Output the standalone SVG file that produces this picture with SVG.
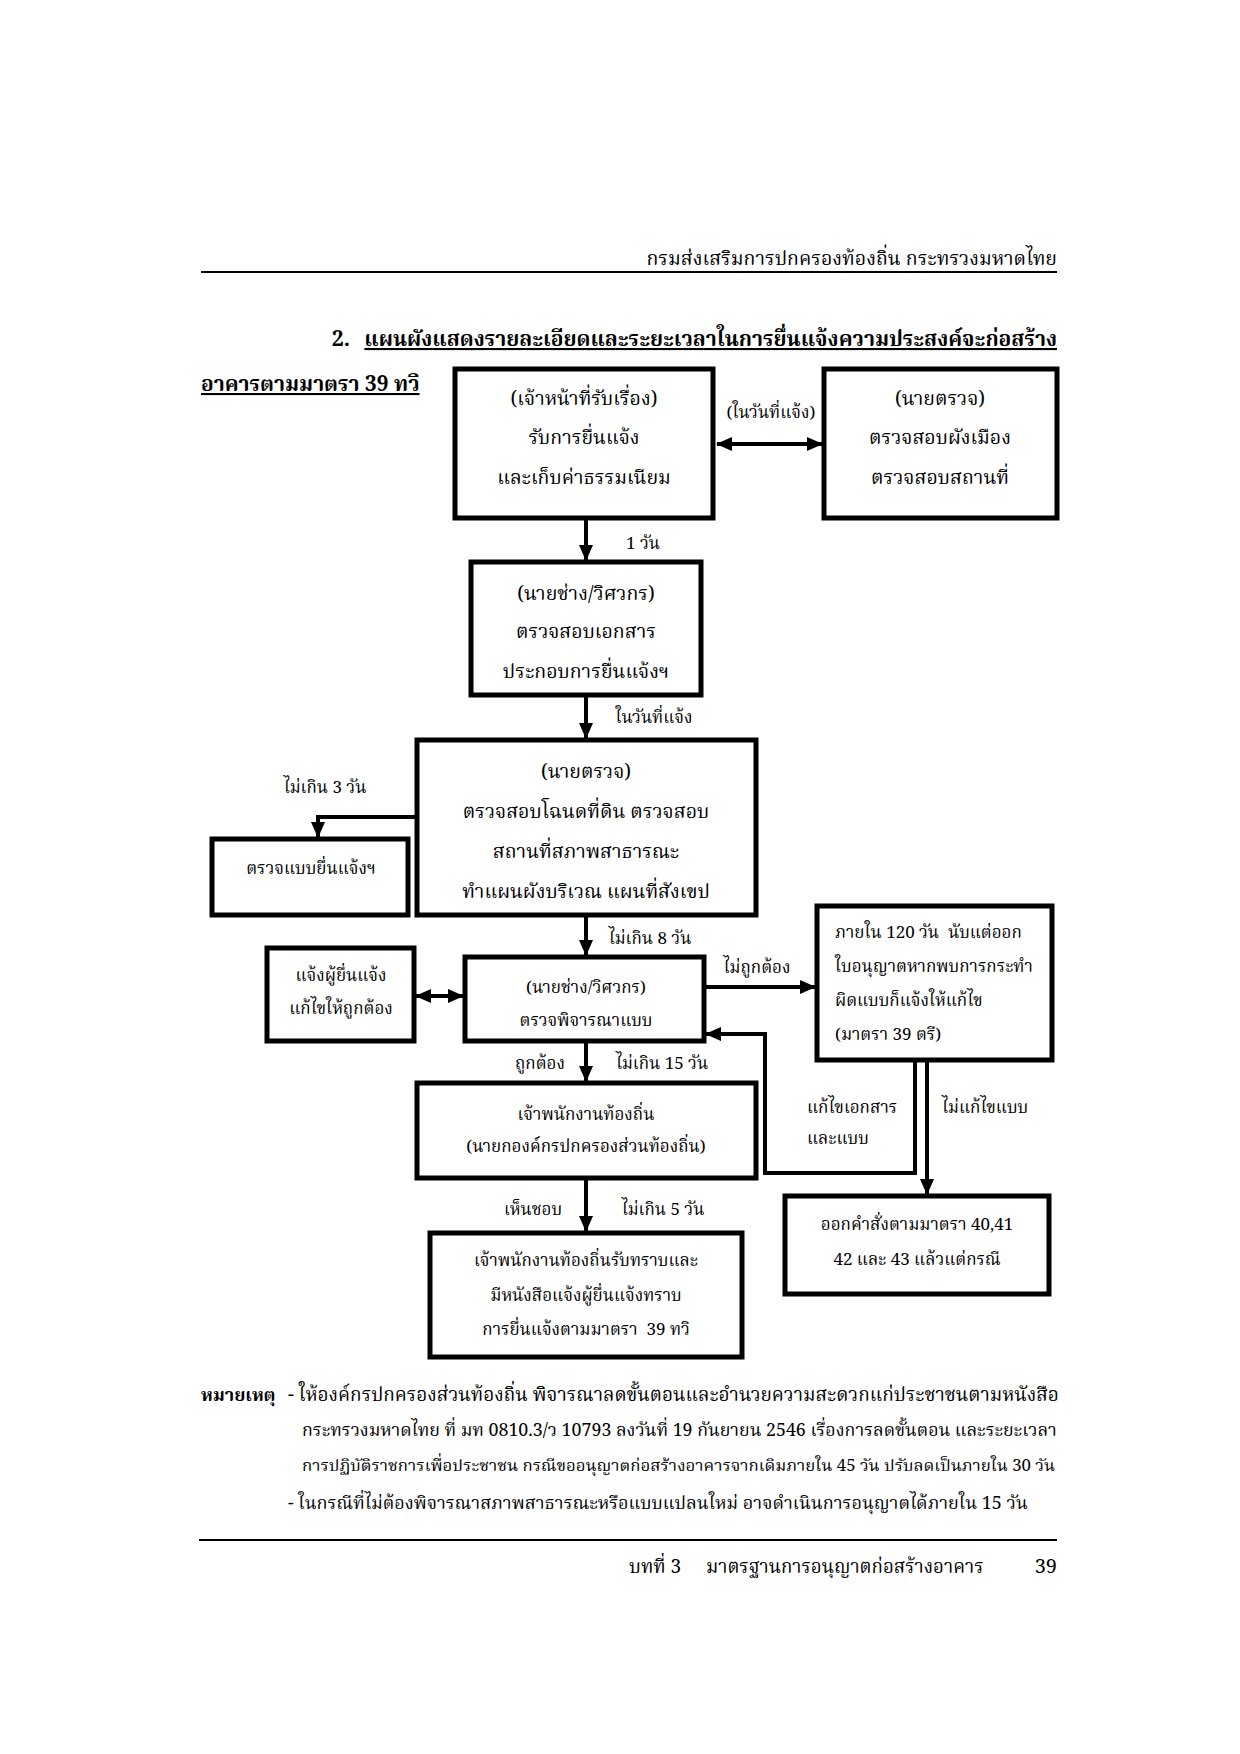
<svg xmlns="http://www.w3.org/2000/svg" width="1240" height="1754" viewBox="0 0 1240 1754">
<style>
text{font-family:"Noto Serif Thai","Norasi","Loma","Noto Sans Thai Looped","Noto Sans Thai","Liberation Serif",serif;fill:#000;}
.c{text-anchor:middle;}
.t{font-size:19.5px;}
.h{font-size:21px;}
.s{font-size:17px;}
.b{font-weight:bold;}
.box{fill:#fff;stroke:#000;stroke-width:5;}
.ln{fill:none;stroke:#000;stroke-width:4;}
</style>
<defs>
<marker id="ah" markerUnits="userSpaceOnUse" markerWidth="16" markerHeight="16" refX="15" refY="8" orient="auto-start-reverse" viewBox="0 0 16 16"><path d="M0,1 L16,8 L0,15 z" fill="#000"/></marker>
</defs>
<rect width="1240" height="1754" fill="#fff"/>
<text x="1057" y="265" class="t" text-anchor="end">กรมส่งเสริมการปกครองท้องถิ่น กระทรวงมหาดไทย</text>
<line x1="201" y1="272" x2="1057" y2="272" stroke="#000" stroke-width="2"/>
<text x="332" y="346" class="h b">2.</text>
<text x="1057" y="346" class="h b" text-anchor="end" text-decoration="underline">แผนผังแสดงรายละเอียดและระยะเวลาในการยื่นแจ้งความประสงค์จะก่อสร้าง</text>
<text x="201" y="391" class="h b" text-decoration="underline">อาคารตามมาตรา 39 ทวิ</text>
<g id="connectors">
<line class="ln" x1="717" y1="444" x2="822" y2="444" marker-start="url(#ah)" marker-end="url(#ah)"/>
<line class="ln" x1="586" y1="520" x2="586" y2="560" marker-end="url(#ah)"/>
<line class="ln" x1="586" y1="697" x2="586" y2="738" marker-end="url(#ah)"/>
<polyline class="ln" points="415,817 318,817 318,837" marker-end="url(#ah)"/>
<line class="ln" x1="586" y1="917" x2="586" y2="955" marker-end="url(#ah)"/>
<line class="ln" x1="416" y1="996" x2="463" y2="996" marker-start="url(#ah)" marker-end="url(#ah)"/>
<line class="ln" x1="706" y1="987" x2="815" y2="987" marker-end="url(#ah)"/>
<polyline class="ln" points="915,1062 915,1173 765,1173 765,1034 706,1034" marker-end="url(#ah)"/>
<line class="ln" x1="927" y1="1062" x2="927" y2="1194" marker-end="url(#ah)"/>
<line class="ln" x1="586" y1="1043" x2="586" y2="1081" marker-end="url(#ah)"/>
<line class="ln" x1="586" y1="1180" x2="586" y2="1231" marker-end="url(#ah)"/>
<text x="771" y="418" class="s c">(ในวันที่แจ้ง)</text>
<text x="643" y="549" class="s c">1 วัน</text>
<text x="654" y="723" class="s c">ในวันที่แจ้ง</text>
<text x="325" y="793" class="s c">ไม่เกิน 3 วัน</text>
<text x="650" y="944" class="s c">ไม่เกิน 8 วัน</text>
<text x="757" y="973" class="s c">ไม่ถูกต้อง</text>
<text x="540" y="1069" class="s c">ถูกต้อง</text>
<text x="662" y="1069" class="s c">ไม่เกิน 15 วัน</text>
<text x="807" y="1113" class="s">แก้ไขเอกสาร</text>
<text x="807" y="1144" class="s">และแบบ</text>
<text x="942" y="1113" class="s">ไม่แก้ไขแบบ</text>
<text x="533" y="1215" class="s c">เห็นชอบ</text>
<text x="663" y="1215" class="s c">ไม่เกิน 5 วัน</text>
</g>
<g id="n1"><rect class="box" x="455" y="369" width="258" height="149"/>
<text x="584" y="405" class="t c">(เจ้าหน้าที่รับเรื่อง)</text>
<text x="584" y="444" class="t c">รับการยื่นแจ้ง</text>
<text x="584" y="484" class="t c">และเก็บค่าธรรมเนียม</text></g>
<g id="n2"><rect class="box" x="824" y="369" width="233" height="149"/>
<text x="940" y="405" class="t c">(นายตรวจ)</text>
<text x="940" y="444" class="t c">ตรวจสอบผังเมือง</text>
<text x="940" y="484" class="t c">ตรวจสอบสถานที่</text></g>
<g id="n3"><rect class="box" x="471" y="562" width="230" height="133"/>
<text x="586" y="600" class="t c">(นายช่าง/วิศวกร)</text>
<text x="586" y="638" class="t c">ตรวจสอบเอกสาร</text>
<text x="586" y="678" class="t c">ประกอบการยื่นแจ้งฯ</text></g>
<g id="n4"><rect class="box" x="417" y="740" width="339" height="175"/>
<text x="586" y="778" class="t c">(นายตรวจ)</text>
<text x="586" y="818" class="t c">ตรวจสอบโฉนดที่ดิน ตรวจสอบ</text>
<text x="586" y="858" class="t c">สถานที่สภาพสาธารณะ</text>
<text x="586" y="898" class="t c" font-size="18.6">ทำแผนผังบริเวณ แผนที่สังเขป</text></g>
<g id="n5"><rect class="box" x="212" y="839" width="196" height="76"/>
<text x="311" y="874" class="s c">ตรวจแบบยื่นแจ้งฯ</text></g>
<g id="n6"><rect class="box" x="465" y="957" width="239" height="84"/>
<text x="586" y="993" class="s c" font-size="16.5">(นายช่าง/วิศวกร)</text>
<text x="586" y="1026" class="s c" font-size="16.5">ตรวจพิจารณาแบบ</text></g>
<g id="n7"><rect class="box" x="267" y="948" width="147" height="93"/>
<text x="341" y="981" class="s c">แจ้งผู้ยื่นแจ้ง</text>
<text x="341" y="1014" class="s c">แก้ไขให้ถูกต้อง</text></g>
<g id="n8"><rect class="box" x="817" y="906" width="235" height="154"/>
<text x="835" y="938" class="s" xml:space="preserve">ภายใน 120 วัน  นับแต่ออก</text>
<text x="835" y="972" class="s">ใบอนุญาตหากพบการกระทำ</text>
<text x="835" y="1006" class="s">ผิดแบบก็แจ้งให้แก้ไข</text>
<text x="835" y="1040" class="s">(มาตรา 39 ตรี)</text></g>
<g id="n9"><rect class="box" x="785" y="1196" width="264" height="98"/>
<text x="917" y="1230" class="s c" font-size="15.7">ออกคำสั่งตามมาตรา 40,41</text>
<text x="917" y="1265" class="s c" font-size="15.7">42 และ 43 แล้วแต่กรณี</text></g>
<g id="n10"><rect class="box" x="417" y="1083" width="339" height="95"/>
<text x="586" y="1120" class="s c">เจ้าพนักงานท้องถิ่น</text>
<text x="586" y="1152" class="s c">(นายกองค์กรปกครองส่วนท้องถิ่น)</text></g>
<g id="n11"><rect class="box" x="430" y="1233" width="312" height="124"/>
<text x="586" y="1266" class="s c" font-size="16.4">เจ้าพนักงานท้องถิ่นรับทราบและ</text>
<text x="586" y="1301" class="s c" font-size="16.4">มีหนังสือแจ้งผู้ยื่นแจ้งทราบ</text>
<text x="586" y="1335" class="s c" font-size="16.4" xml:space="preserve">การยื่นแจ้งตามมาตรา  39 ทวิ</text></g>
<text x="201" y="1401" class="b" font-size="18">หมายเหตุ</text>
<text x="288" y="1401" font-size="19">- ให้องค์กรปกครองส่วนท้องถิ่น พิจารณาลดขั้นตอนและอำนวยความสะดวกแก่ประชาชนตามหนังสือ</text>
<text x="302" y="1436" font-size="17.8">กระทรวงมหาดไทย ที่ มท 0810.3/ว 10793 ลงวันที่ 19 กันยายน 2546 เรื่องการลดขั้นตอน และระยะเวลา</text>
<text x="302" y="1471" font-size="16.8">การปฏิบัติราชการเพื่อประชาชน กรณีขออนุญาตก่อสร้างอาคารจากเดิมภายใน 45 วัน ปรับลดเป็นภายใน 30 วัน</text>
<text x="288" y="1509" font-size="18">- ในกรณีที่ไม่ต้องพิจารณาสภาพสาธารณะหรือแบบแปลนใหม่ อาจดำเนินการอนุญาตได้ภายใน 15 วัน</text>
<line x1="199" y1="1540" x2="1057" y2="1540" stroke="#000" stroke-width="2"/>
<text x="629" y="1573" font-size="19">บทที่ 3</text>
<text x="706" y="1573" font-size="18.7">มาตรฐานการอนุญาตก่อสร้างอาคาร</text>
<text x="1057" y="1573" font-size="20" text-anchor="end">39</text>
</svg>
